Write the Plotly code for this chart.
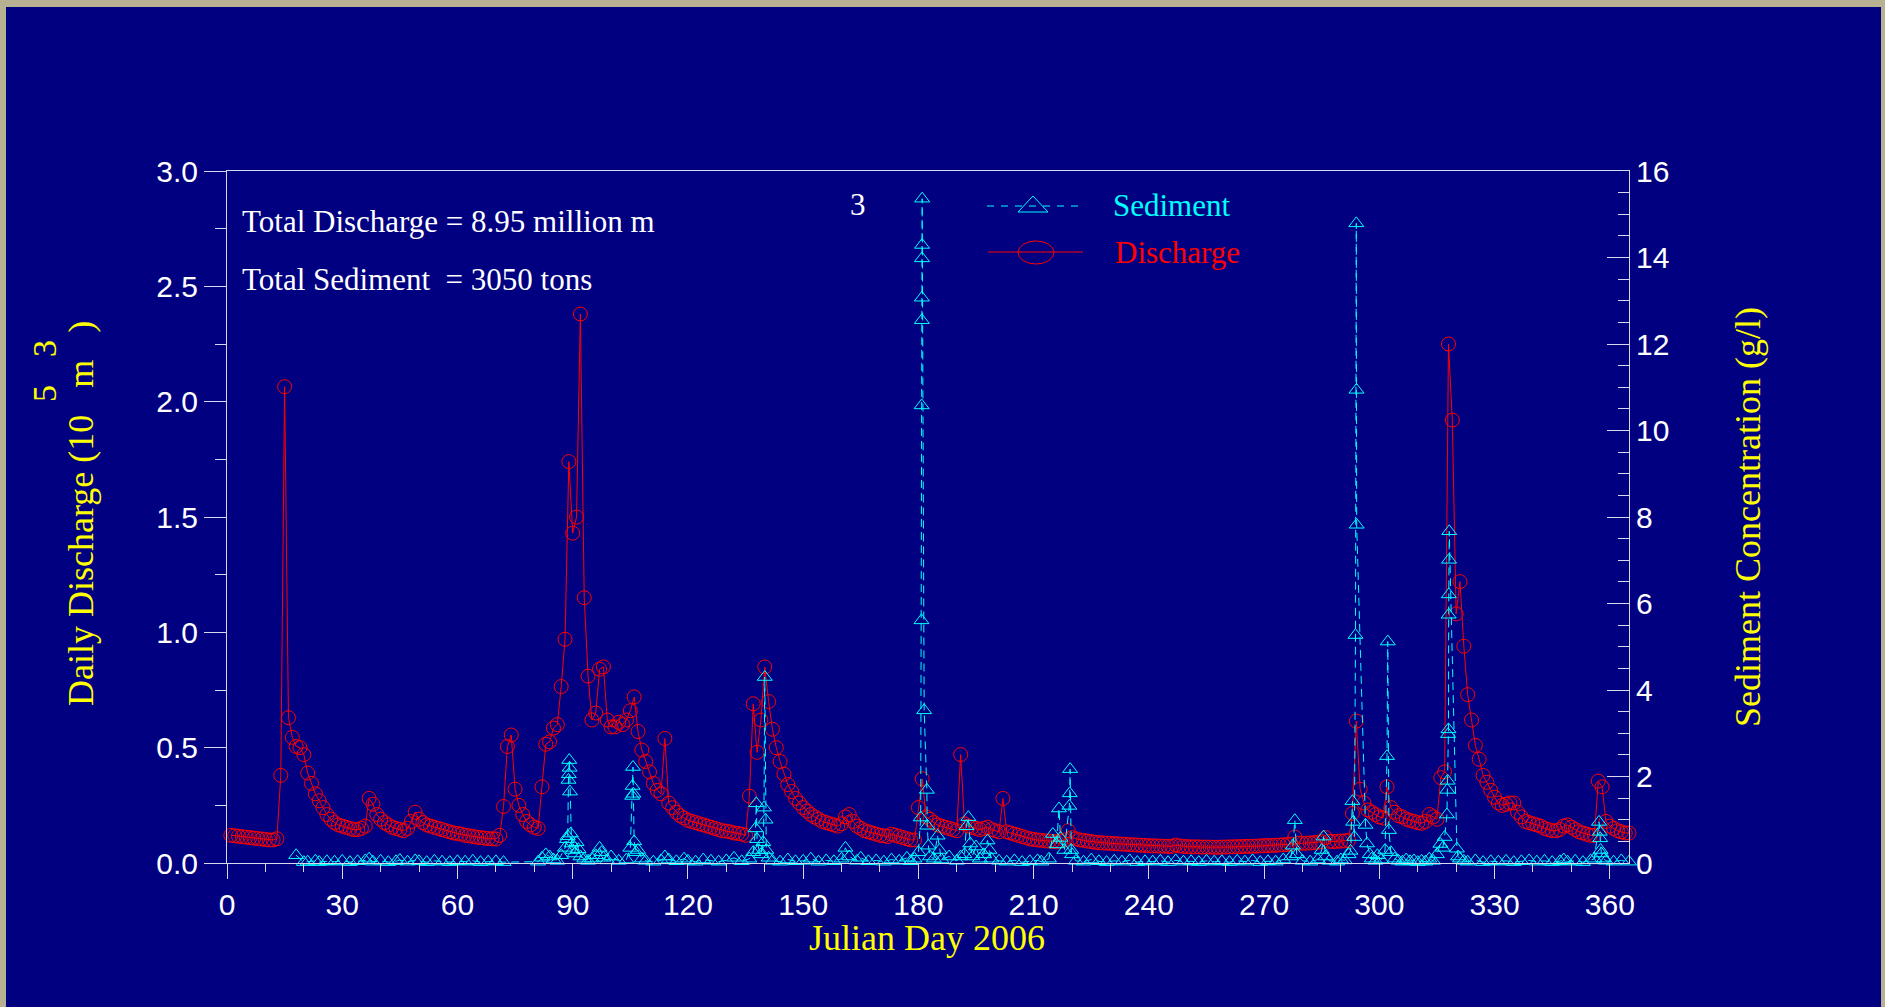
import plotly.graph_objects as go

# ---------------- data ----------------
# Daily discharge (10^5 m^3), Julian days 1..365
discharge = [
    0.120, 0.118, 0.116, 0.114, 0.112, 0.110, 0.108, 0.106, 0.104, 0.102,
    0.100, 0.100, 0.105, 0.380, 2.065, 0.630, 0.545, 0.505, 0.500, 0.470,
    0.390, 0.345, 0.300, 0.270, 0.240, 0.210, 0.190, 0.175, 0.165, 0.160,
    0.155, 0.150, 0.145, 0.145, 0.150, 0.160, 0.280, 0.255, 0.210, 0.190,
    0.175, 0.165, 0.155, 0.150, 0.145, 0.140, 0.150, 0.180, 0.220, 0.190,
    0.175, 0.165, 0.160, 0.155, 0.150, 0.145, 0.140, 0.135, 0.130, 0.128,
    0.125, 0.120, 0.118, 0.115, 0.112, 0.110, 0.108, 0.106, 0.105, 0.104,
    0.120, 0.245, 0.505, 0.555, 0.320, 0.250, 0.210, 0.180, 0.165, 0.155,
    0.150, 0.330, 0.515, 0.525, 0.585, 0.600, 0.765, 0.970, 1.740, 1.430,
    1.500, 2.380, 1.150, 0.810, 0.620, 0.650, 0.840, 0.850, 0.620, 0.590,
    0.590, 0.610, 0.600, 0.620, 0.660, 0.720, 0.570, 0.490, 0.440, 0.395,
    0.345, 0.315, 0.300, 0.540, 0.260, 0.240, 0.220, 0.205, 0.195, 0.185,
    0.180, 0.175, 0.170, 0.165, 0.160, 0.155, 0.150, 0.145, 0.140, 0.138,
    0.135, 0.130, 0.128, 0.125, 0.120, 0.290, 0.690, 0.480, 0.620, 0.850,
    0.700, 0.580, 0.500, 0.440, 0.385, 0.340, 0.310, 0.280, 0.260, 0.240,
    0.225, 0.210, 0.200, 0.190, 0.180, 0.175, 0.170, 0.165, 0.160, 0.170,
    0.200, 0.210, 0.180, 0.160, 0.150, 0.140, 0.135, 0.130, 0.125, 0.120,
    0.118, 0.115, 0.125, 0.120, 0.115, 0.110, 0.105, 0.100, 0.100, 0.240,
    0.365, 0.200, 0.190, 0.175, 0.165, 0.160, 0.155, 0.150, 0.145, 0.140,
    0.470, 0.170, 0.160, 0.155, 0.150, 0.145, 0.150, 0.155, 0.145, 0.140,
    0.135, 0.280, 0.135, 0.130, 0.125, 0.120, 0.115, 0.110, 0.105, 0.102,
    0.100, 0.098, 0.096, 0.095, 0.093, 0.092, 0.095, 0.100, 0.140, 0.110,
    0.105, 0.100, 0.098, 0.095, 0.093, 0.090, 0.088, 0.087, 0.086, 0.085,
    0.084, 0.083, 0.082, 0.081, 0.080, 0.079, 0.078, 0.077, 0.076, 0.075,
    0.074, 0.074, 0.073, 0.073, 0.072, 0.072, 0.078, 0.074, 0.072, 0.071,
    0.070, 0.070, 0.070, 0.069, 0.069, 0.069, 0.068, 0.068, 0.069, 0.069,
    0.070, 0.070, 0.071, 0.071, 0.072, 0.072, 0.073, 0.073, 0.074, 0.075,
    0.075, 0.076, 0.077, 0.078, 0.079, 0.080, 0.082, 0.112, 0.086, 0.085,
    0.086, 0.087, 0.088, 0.090, 0.092, 0.110, 0.094, 0.093, 0.094, 0.095,
    0.096, 0.098, 0.215, 0.615, 0.320, 0.260, 0.230, 0.220, 0.210, 0.200,
    0.195, 0.330, 0.240, 0.220, 0.205, 0.200, 0.190, 0.185, 0.180, 0.175,
    0.172, 0.180, 0.210, 0.200, 0.190, 0.370, 0.395, 2.250, 1.920, 1.080,
    1.220, 0.940, 0.730, 0.620, 0.510, 0.450, 0.380, 0.350, 0.315, 0.285,
    0.260, 0.250, 0.255, 0.260, 0.260, 0.220, 0.200, 0.180, 0.175, 0.170,
    0.165, 0.160, 0.150, 0.145, 0.140, 0.140, 0.145, 0.160, 0.165, 0.155,
    0.145, 0.135, 0.130, 0.125, 0.120, 0.120, 0.355, 0.330, 0.180, 0.160,
    0.150, 0.140, 0.135, 0.130, 0.130,
]
days = list(range(1, len(discharge) + 1))

# Sediment concentration samples (g/l): sample time (Julian day) and value
sed_day = [
    18, 20, 21, 23, 24, 26, 28, 30, 32, 34,
    36, 37, 38, 40, 42, 44, 45, 47, 49, 50,
    52, 54, 56, 58, 60, 62, 64, 66, 68, 70,
    72, 81, 82, 83, 84, 85, 86, 87, 88, 88.5,
    88.7, 88.9, 89.0, 89.1, 89.2, 89.3, 89.5, 89.7, 90.0, 90.5,
    91, 91.5, 92, 93, 94, 95, 96, 97, 97.5, 98,
    99, 100, 102, 104, 105, 105.5, 105.6, 105.7, 105.8, 106,
    106.5, 107, 108, 109, 111, 113, 114, 115, 117, 119,
    120, 122, 124, 126, 128, 130, 132, 134, 136, 137,
    137.6, 137.8, 138, 138.5, 139, 139.6, 139.8, 140, 140.2, 140.4,
    141, 142, 144, 146, 148, 150, 152, 154, 156, 158,
    160, 161, 162, 164, 165, 167, 169, 171, 173, 175,
    177, 178, 179, 180, 180.6, 180.8, 180.85, 180.9, 180.92, 180.94,
    180.96, 180.98, 181.5, 182.2, 182.3, 182.6, 183, 184, 185, 185.5,
    186, 188, 190, 191, 192, 192.5, 193, 193.5, 194, 195,
    196, 197, 198, 198.5, 199, 201, 203, 205, 207, 209,
    211, 212, 214, 215, 216, 216.6, 217, 218, 219.3, 219.4,
    219.5, 219.8, 220, 221, 223, 225, 227, 229, 231, 233,
    235, 237, 239, 241, 243, 245, 247, 249, 251, 253,
    255, 257, 259, 261, 263, 265, 267, 269, 271, 273,
    275, 277, 277.5, 278, 278.5, 280, 282, 284, 285, 285.5,
    286, 287, 289, 290, 291, 292, 292.5, 293.0, 293.2, 293.5,
    293.8, 294.0, 294.05, 294.1, 296.4, 296.8, 297.5, 298, 299, 299.5,
    300.5, 301.5, 302.0, 302.2, 302.5, 303, 304, 305, 306, 307,
    308, 309, 310, 311, 312, 313, 314, 315, 315.9, 316.5,
    317.0, 317.6, 317.7, 317.8, 317.9, 318.0, 318.05, 318.1, 318.15, 318.2,
    320.2, 320.5, 321, 322, 323, 325, 327, 329, 331, 333,
    335, 337, 339, 341, 343, 345, 347, 348, 349, 351,
    353, 355, 356, 357.2, 357.4, 357.5, 357.6, 357.8, 358.5, 359,
    361, 363, 365,
]
sed_conc = [
    0.18, 0.02, 0.03, 0.05, 0.02, 0.04, 0.03, 0.05, 0.02, 0.04,
    0.06, 0.10, 0.03, 0.05, 0.02, 0.04, 0.07, 0.03, 0.06, 0.04,
    0.02, 0.05, 0.03, 0.02, 0.04, 0.03, 0.05, 0.02, 0.03, 0.04,
    0.02, 0.03, 0.12, 0.20, 0.15, 0.08, 0.05, 0.18, 0.35, 0.55,
    0.62, 1.92, 2.05, 2.38, 2.20, 1.65, 0.68, 0.45, 0.30, 0.22,
    0.48, 0.32, 0.15, 0.10, 0.05, 0.10, 0.18, 0.35, 0.25, 0.12,
    0.06, 0.15, 0.05, 0.08, 0.35, 1.55, 1.78, 2.22, 1.60, 0.50,
    0.25, 0.30, 0.10, 0.05, 0.03, 0.06, 0.15, 0.08, 0.04, 0.10,
    0.05, 0.03, 0.08, 0.05, 0.03, 0.06, 0.12, 0.04, 0.10, 0.25,
    0.80, 1.38, 0.55, 0.30, 0.20, 0.48, 1.28, 4.30, 1.00, 0.30,
    0.12, 0.05, 0.03, 0.08, 0.04, 0.05, 0.10, 0.03, 0.06, 0.04,
    0.10, 0.35, 0.15, 0.05, 0.12, 0.04, 0.06, 0.03, 0.08, 0.05,
    0.12, 0.04, 0.10, 0.25, 1.05, 5.61, 10.58, 12.55, 13.07, 13.98,
    14.29, 15.36, 3.53, 1.69, 0.86, 0.40, 0.15, 0.10, 0.63, 0.30,
    0.08, 0.15, 0.05, 0.15, 0.20, 0.85, 1.06, 0.45, 0.15, 0.38,
    0.10, 0.20, 0.52, 0.30, 0.10, 0.05, 0.03, 0.06, 0.02, 0.04,
    0.06, 0.03, 0.10, 0.67, 0.43, 1.26, 0.58, 0.30, 1.32, 1.61,
    2.17, 0.30, 0.20, 0.05, 0.03, 0.08, 0.04, 0.02, 0.05, 0.03,
    0.06, 0.02, 0.04, 0.03, 0.05, 0.02, 0.06, 0.03, 0.04, 0.02,
    0.05, 0.03, 0.04, 0.02, 0.05, 0.03, 0.06, 0.02, 0.04, 0.03,
    0.08, 0.15, 0.40, 0.99, 0.20, 0.05, 0.03, 0.08, 0.30, 0.61,
    0.15, 0.05, 0.03, 0.08, 0.06, 0.20, 0.28, 1.43, 0.95, 0.60,
    5.27, 14.79, 10.94, 7.82, 0.88, 0.45, 0.20, 0.10, 0.05, 0.18,
    0.08, 0.30, 2.47, 5.12, 0.76, 0.25, 0.10, 0.05, 0.03, 0.08,
    0.04, 0.06, 0.02, 0.05, 0.03, 0.10, 0.05, 0.20, 0.44, 0.35,
    0.60, 1.12, 1.69, 1.90, 2.98, 3.09, 5.74, 6.21, 7.01, 7.67,
    0.33, 0.15, 0.10, 0.05, 0.03, 0.06, 0.02, 0.04, 0.03, 0.05,
    0.02, 0.04, 0.06, 0.03, 0.05, 0.02, 0.04, 0.08, 0.03, 0.05,
    0.02, 0.06, 0.10, 0.95, 0.72, 0.57, 0.30, 0.22, 0.10, 0.05,
    0.03, 0.06, 0.03,
]

x_tickvals = [0, 30, 60, 90, 120, 150, 180, 210, 240, 270, 300, 330, 360]
y_tickvals = [0.0, 0.5, 1.0, 1.5, 2.0, 2.5, 3.0]
y_ticktext = ["0.0", "0.5", "1.0", "1.5", "2.0", "2.5", "3.0"]
y2_tickvals = [0, 2, 4, 6, 8, 10, 12, 14, 16]

# ---------------- layout helpers ----------------
FIG_W, FIG_H = 1885, 1007
L, R, T, B = 227, 1629, 171, 863


def px(x):
    return (x - L) / (R - L)


def py(y):
    return (B - y) / (B - T)


NAVY = "#000080"
AXIS = "#d8d8ec"
RED = "#ff0000"
CYAN = "#00ffff"
YELLOW = "#ffff00"
SERIF = "Liberation Serif, Times New Roman, serif"
SANS = "Liberation Sans, Arial, sans-serif"

fig = go.Figure()
fig.add_trace(go.Scatter(
    x=days, y=discharge, mode="lines+markers", name="Discharge",
    line=dict(color=RED, width=1),
    marker=dict(symbol="circle-open", size=14, color=RED, line=dict(width=1, color=RED)),
    cliponaxis=False, showlegend=False,
))
fig.add_trace(go.Scatter(
    x=sed_day, y=sed_conc, yaxis="y2", mode="lines+markers", name="Sediment",
    line=dict(color=CYAN, width=1, dash="8px,5px"),
    marker=dict(symbol="triangle-up-open", size=13, color=CYAN, line=dict(width=1, color=CYAN)),
    cliponaxis=False, showlegend=False,
))

tickfont = dict(family=SANS, size=30, color="white")

fig.update_layout(
    width=FIG_W, height=FIG_H,
    margin=dict(l=L, r=FIG_W - R, t=T, b=FIG_H - B, pad=0),
    paper_bgcolor="#b8b092",
    plot_bgcolor="rgba(0,0,0,0)",
    showlegend=False,
    xaxis=dict(
        range=[0, 365], tickmode="array", tickvals=x_tickvals,
        ticks="outside", ticklen=15, tickwidth=1, tickcolor=AXIS,
        showline=True, linecolor=AXIS, linewidth=1, mirror=True,
        showgrid=False, zeroline=False, tickfont=tickfont,
        minor=dict(tickmode="linear", tick0=0, dtick=10, ticks="outside",
                   ticklen=8, tickwidth=1, tickcolor=AXIS, showgrid=False),
    ),
    yaxis=dict(
        range=[0, 3], tickmode="array", tickvals=y_tickvals, ticktext=y_ticktext,
        ticks="outside", ticklen=22, tickwidth=1, tickcolor=AXIS,
        showline=True, linecolor=AXIS, linewidth=1,
        showgrid=False, zeroline=False, tickfont=tickfont,
        minor=dict(tickmode="linear", tick0=0, dtick=0.25, ticks="outside",
                   ticklen=11, tickwidth=1, tickcolor=AXIS, showgrid=False),
    ),
    yaxis2=dict(
        range=[0, 16], overlaying="y", side="right", anchor="x",
        tickmode="array", tickvals=y2_tickvals,
        ticks="inside", ticklen=22, tickwidth=1, tickcolor=AXIS,
        showline=True, linecolor=AXIS, linewidth=1,
        showgrid=False, zeroline=False, tickfont=tickfont,
        minor=dict(tickmode="linear", tick0=0, dtick=0.5, ticks="inside",
                   ticklen=11, tickwidth=1, tickcolor=AXIS, showgrid=False),
    ),
)

shapes = [
    # navy panel on the textured frame
    dict(type="rect", xref="paper", yref="paper", layer="below",
         x0=px(6), x1=px(1881), y0=py(1020), y1=py(7),
         fillcolor=NAVY, line=dict(width=0)),
    # legend: sediment
    dict(type="line", xref="paper", yref="paper",
         x0=px(987), x1=px(1082), y0=py(206), y1=py(206),
         line=dict(color=CYAN, width=1, dash="7px,7px")),
    dict(type="path", xref="paper", yref="paper",
         path=f"M {px(1018)} {py(212)} L {px(1048)} {py(212)} L {px(1033)} {py(196)} Z",
         line=dict(color=CYAN, width=1)),
    # legend: discharge
    dict(type="line", xref="paper", yref="paper",
         x0=px(988), x1=px(1083), y0=py(252), y1=py(252),
         line=dict(color=RED, width=1)),
    dict(type="circle", xref="paper", yref="paper",
         x0=px(1018), x1=px(1054), y0=py(264), y1=py(241),
         line=dict(color=RED, width=1)),
]
fig.update_layout(shapes=shapes)

NB = "\u00a0"
annotations = [
    dict(text="Julian Day 2006", x=px(927), y=py(938), xanchor="center", yanchor="middle",
         font=dict(family=SERIF, size=36, color=YELLOW)),
    dict(text=f"Daily Discharge (10{NB}{NB}{NB}m{NB}{NB}{NB})", x=px(81), y=py(514),
         textangle=-90, xanchor="center", yanchor="middle",
         font=dict(family=SERIF, size=36, color=YELLOW)),
    dict(text="5", x=px(44), y=py(394), textangle=-90, xanchor="center", yanchor="middle",
         font=dict(family=SERIF, size=34, color=YELLOW)),
    dict(text="3", x=px(44), y=py(349), textangle=-90, xanchor="center", yanchor="middle",
         font=dict(family=SERIF, size=34, color=YELLOW)),
    dict(text="Sediment Concentration (g/l)", x=px(1748), y=py(517),
         textangle=-90, xanchor="center", yanchor="middle",
         font=dict(family=SERIF, size=36, color=YELLOW)),
    dict(text="Total Discharge = 8.95 million m", x=px(240), y=py(221),
         xanchor="left", yanchor="middle",
         font=dict(family=SERIF, size=31, color="white")),
    dict(text=f"Total Sediment {NB}= 3050 tons", x=px(240), y=py(279),
         xanchor="left", yanchor="middle",
         font=dict(family=SERIF, size=31, color="white")),
    dict(text="3", x=px(858), y=py(204), xanchor="center", yanchor="middle",
         font=dict(family=SERIF, size=31, color="white")),
    dict(text="Sediment", x=px(1111), y=py(205), xanchor="left", yanchor="middle",
         font=dict(family=SERIF, size=31, color=CYAN)),
    dict(text="Discharge", x=px(1113), y=py(252), xanchor="left", yanchor="middle",
         font=dict(family=SERIF, size=31, color=RED)),
]
for a in annotations:
    a.update(xref="paper", yref="paper", showarrow=False)
fig.update_layout(annotations=annotations)

fig.write_html("out.html")
